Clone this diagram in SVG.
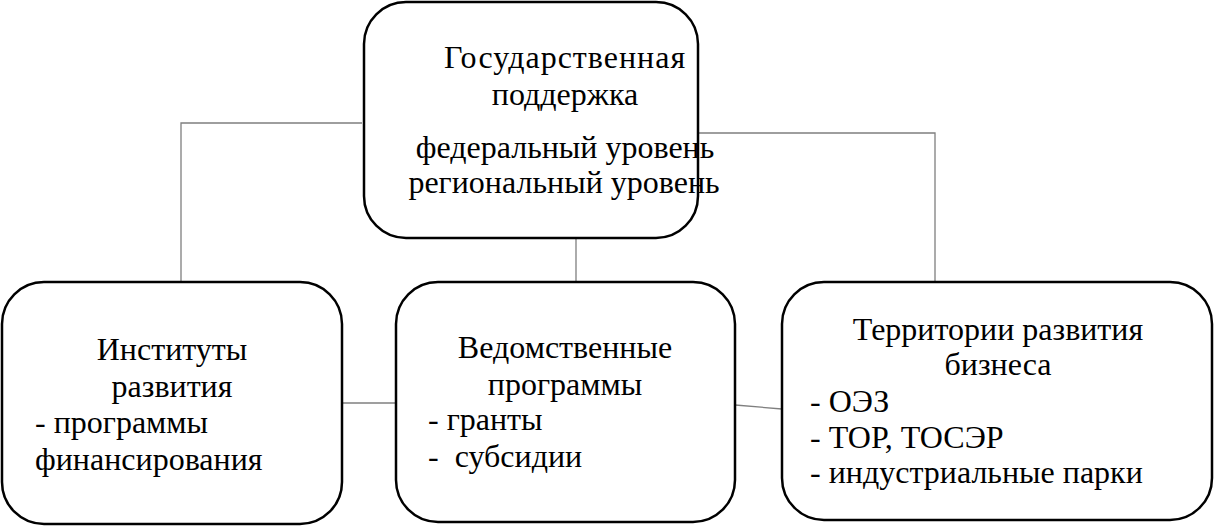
<svg xmlns="http://www.w3.org/2000/svg" width="1214" height="528" viewBox="0 0 1214 528">
<style>
.box{fill:#fff;stroke:#000;stroke-width:2.5}
.t{font-family:"Liberation Serif","Times New Roman",serif;font-size:32px;fill:#000}
.c{text-anchor:middle}
.ln{stroke:#7f7f7f;stroke-width:1.3;fill:none}
</style>
<rect width="1214" height="528" fill="#fff"/>
<g id="connectors">
<polyline class="ln" points="362,123 181,123 181,282"/>
<polyline class="ln" points="698,133 935,133 935,282"/>
<line class="ln" x1="576" y1="238" x2="576" y2="282"/>
<line class="ln" x1="342" y1="403" x2="396" y2="403"/>
<line class="ln" x1="735" y1="405" x2="782" y2="409"/>
</g>
<g id="n-top">
<rect class="box" x="364" y="2" width="334" height="236" rx="42"/>
<text class="t c" x="565" y="68" letter-spacing="1">Государственная</text>
<text class="t c" x="565" y="105">поддержка</text>
<text class="t c" x="565" y="158">федеральный уровень</text>
<text class="t c" x="564" y="193">региональный уровень</text>
</g>
<g id="n-left">
<rect class="box" x="2" y="282" width="340" height="242" rx="42"/>
<text class="t c" x="172" y="360">Институты</text>
<text class="t c" x="172" y="397">развития</text>
<text class="t" x="35" y="433">- программы</text>
<text class="t" x="35" y="470">финансирования</text>
</g>
<g id="n-mid">
<rect class="box" x="396" y="282" width="339" height="240" rx="42"/>
<text class="t c" x="565" y="358">Ведомственные</text>
<text class="t c" x="565" y="395">программы</text>
<text class="t" x="428" y="430">- гранты</text>
<text class="t" x="428" y="467" xml:space="preserve">-  субсидии</text>
</g>
<g id="n-right">
<rect class="box" x="782" y="282" width="430" height="238" rx="42"/>
<text class="t c" x="998" y="340">Территории развития</text>
<text class="t c" x="998" y="375">бизнеса</text>
<text class="t" x="810" y="412">- ОЭЗ</text>
<text class="t" x="810" y="448">- ТОР, ТОСЭР</text>
<text class="t" x="810" y="483">- индустриальные парки</text>
</g>
</svg>
